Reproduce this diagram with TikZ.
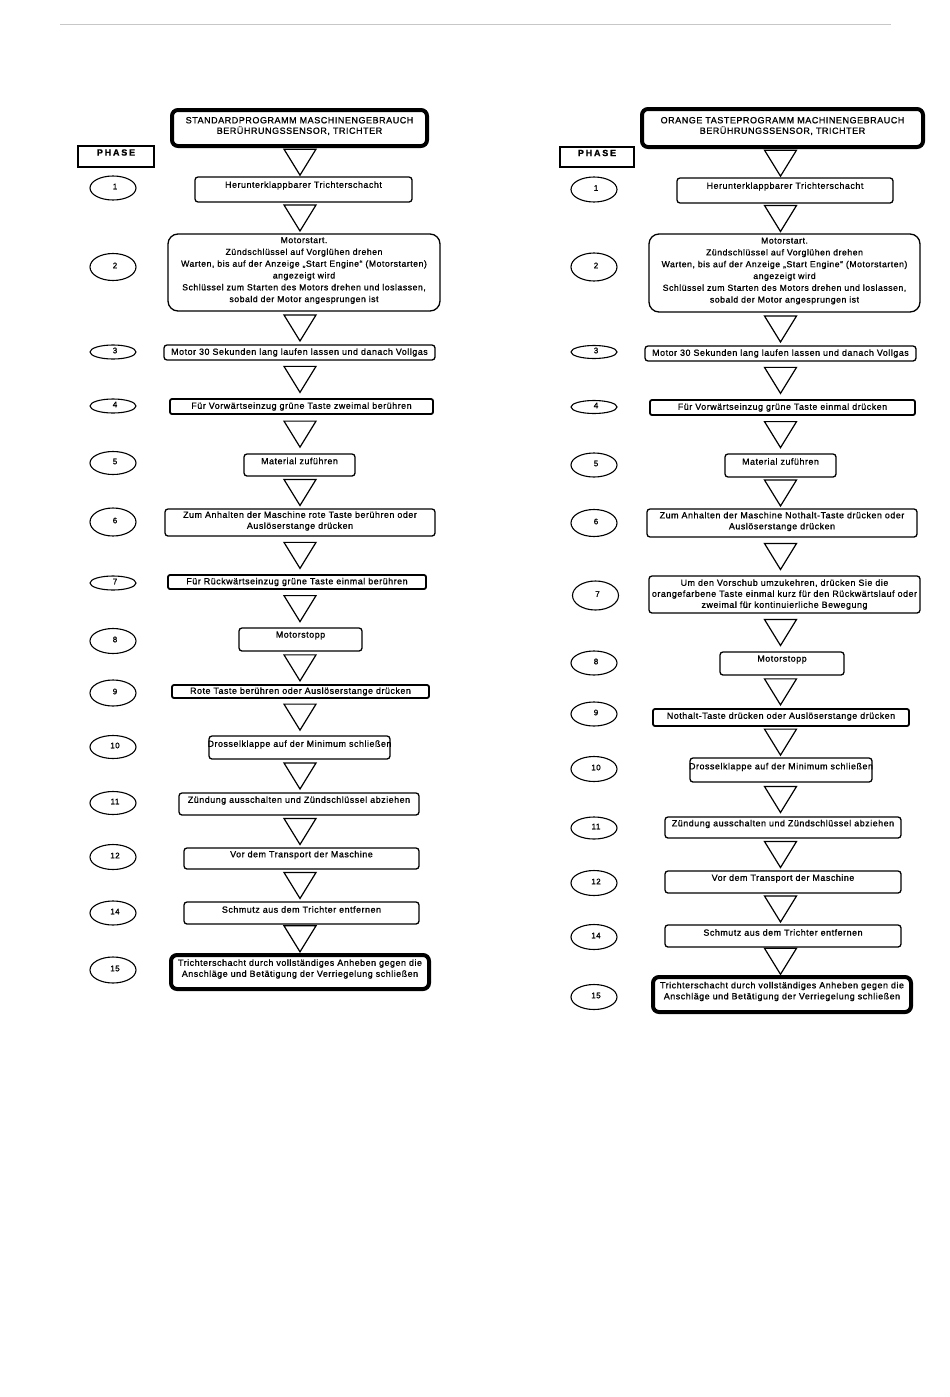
\documentclass[tikz,border=0pt]{standalone}
\usepackage{fontspec}
\setmainfont{Liberation Sans}[LetterSpace=6,FakeBold=1]
\usetikzlibrary{shapes.geometric,calc}
\tikzset{
  x=1pt,y=-1pt,
  txt/.style={align=center,inner sep=0pt,font=\fontsize{8.9}{11}\selectfont},
  box/.style={draw,line width=1.3pt,rounded corners=3pt,inner sep=0pt},
  box text/.style={txt},
  hbox/.style={draw,line width=1.8pt,rounded corners=2pt,inner sep=0pt},
  hbox text/.style={txt},
  rbox/.style={draw,line width=1.3pt,rounded corners=10pt,inner sep=0pt},
  rbox text/.style={txt,font=\fontsize{8.7}{11.8}\selectfont},
  tbox/.style={draw,line width=4pt,rounded corners=6pt,inner sep=0pt},
  tbox text/.style={txt},
  titlebox/.style={draw,line width=4pt,rounded corners=6pt,inner sep=0pt},
  titletext/.style={align=center,inner sep=0pt,font=\fontsize{9}{10.5}\selectfont},
  phasebox/.style={draw,line width=1.1pt,inner sep=0pt},
  phasetext/.style={inner sep=0pt,font=\fontsize{9}{10}\selectfont\bfseries\addfontfeatures{LetterSpace=20}},
  num/.style={draw,ellipse,line width=1.1pt,minimum width=46pt,inner sep=0pt},
  numtxt/.style={inner sep=0pt,font=\fontsize{8}{9}\selectfont},
  tri/.style={draw,line width=1.2pt,line join=miter},
}
% name, cx, cy, w, h, style, text, text shift
\newcommand\mkstep[8]{%
  \node[#6,minimum width=#4pt,minimum height=#5pt] (#1) at (#2,#3) {};
  \node[#6 text] (#1t) at ($(#1.center)+(0,#8)$) {#7};}
% name, cx, cy, h, label
\newcommand\mknum[5]{%
  \node[num,minimum height=#4pt] (#1) at (#2,#3) {};
  \node[numtxt] (#1t) at ($(#1.center)+(2,-1.5)$) {#5};}
% from, to, column coordinate
\newcommand\mktri[3]{%
  \coordinate (m) at ($(#1.south -| #3)!0.5!(#2.north -| #3)$);
  \draw[tri] ($(m)+(-16,-13)$) -- ($(m)+(16,-13)$) -- ($(m)+(0,13)$) -- cycle;}
\begin{document}
\begin{tikzpicture}
\useasboundingbox[fill=white] (0,0) rectangle (950,1397);
\coordinate (topl) at (60,24);
\coordinate (topr) at (891,24);
\draw[line width=0.8pt,black!22] (topl) -- (topr);
\coordinate (Lx) at (300,0);
\coordinate (Rx) at (780.5,0);

% ---------------- left column ----------------
\node[titlebox,minimum width=255pt,minimum height=36pt] (LT) at (299.5,128) {};
\node[titletext] (LTt) at ($(LT.center)+(0,-2)$) {STANDARDPROGRAMM MASCHINENGEBRAUCH\\BERÜHRUNGSSENSOR, TRICHTER};
\node[phasebox,minimum width=76pt,minimum height=21pt] (LP) at (116,156.5) {};
\node[phasetext] (LPt) at ($(LP.center)+(0,-4)$) {PHASE};

\mkstep{L1}{303.5}{189.5}{217}{25}{box}{Herunterklappbarer Trichterschacht}{-4}
\mkstep{L2}{304}{272.5}{272}{77}{rbox}{Motorstart.\\Zündschlüssel auf Vorglühen drehen\\Warten, bis auf der Anzeige „Start Engine“ (Motorstarten)\\angezeigt wird\\Schlüssel zum Starten des Motors drehen und loslassen,\\sobald der Motor angesprungen ist}{-2}
\mkstep{L3}{299.5}{352.5}{271}{15}{box}{Motor 30 Sekunden lang laufen lassen und danach Vollgas}{0}
\mkstep{L4}{301.5}{406.5}{263}{15}{hbox}{Für Vorwärtseinzug grüne Taste zweimal berühren}{0}
\mkstep{L5}{299.5}{465}{111}{22}{box}{Material zuführen}{-4}
\mkstep{L6}{300}{522.5}{270}{27}{box}{Zum Anhalten der Maschine rote Taste berühren oder\\Auslöserstange drücken}{-1.5}
\mkstep{L7}{297}{582}{258}{14}{hbox}{Für Rückwärtseinzug grüne Taste einmal berühren}{0}
\mkstep{L8}{300.5}{639.5}{123}{23}{box}{Motorstopp}{-4}
\mkstep{L9}{300.5}{691.5}{257}{13}{hbox}{Rote Taste berühren oder Auslöserstange drücken}{0}
\mkstep{L10}{299.5}{747.5}{181}{23}{box}{Drosselklappe auf der Minimum schließen}{-3}
\mkstep{L11}{299}{804}{240}{22}{box}{Zündung ausschalten und Zündschlüssel abziehen}{-3.5}
\mkstep{L12}{301.5}{858.5}{235}{21}{box}{Vor dem Transport der Maschine}{-3.5}
\mkstep{L14}{301.5}{913}{235}{22}{box}{Schmutz aus dem Trichter entfernen}{-3.5}
\mkstep{L15}{300}{972}{258}{34}{tbox}{Trichterschacht durch vollständiges Anheben gegen die\\Anschläge und Betätigung der Verriegelung schließen}{-3}

\mknum{N1}{113}{188}{24}{1}
\mknum{N2}{113}{267}{27}{2}
\mknum{N3}{113}{352}{14}{3}
\mknum{N4}{113}{406}{14}{4}
\mknum{N5}{113}{463}{23}{5}
\mknum{N6}{113}{522}{28}{6}
\mknum{N7}{113}{583}{14}{7}
\mknum{N8}{113}{641}{25}{8}
\mknum{N9}{113}{693}{26}{9}
\mknum{N10}{113}{747}{23}{10}
\mknum{N11}{113}{803}{23}{11}
\mknum{N12}{113}{857}{25}{12}
\mknum{N14}{113}{913}{24}{14}
\mknum{N15}{113}{970}{26}{15}

\mktri{LT}{L1}{Lx}
\mktri{L1}{L2}{Lx}
\mktri{L2}{L3}{Lx}
\mktri{L3}{L4}{Lx}
\mktri{L4}{L5}{Lx}
\mktri{L5}{L6}{Lx}
\mktri{L6}{L7}{Lx}
\mktri{L7}{L8}{Lx}
\mktri{L8}{L9}{Lx}
\mktri{L9}{L10}{Lx}
\mktri{L10}{L11}{Lx}
\mktri{L11}{L12}{Lx}
\mktri{L12}{L14}{Lx}
\mktri{L14}{L15}{Lx}

% ---------------- right column ----------------
\node[titlebox,minimum width=281pt,minimum height=38pt] (RT) at (782.5,128) {};
\node[titletext] (RTt) at ($(RT.center)+(0,-2)$) {ORANGE TASTEPROGRAMM MACHINENGEBRAUCH\\BERÜHRUNGSSENSOR, TRICHTER};
\node[phasebox,minimum width=74pt,minimum height=20pt] (RP) at (597,157) {};
\node[phasetext] (RPt) at ($(RP.center)+(0,-4)$) {PHASE};

\mkstep{R1}{785}{190.5}{216}{25}{box}{Herunterklappbarer Trichterschacht}{-4}
\mkstep{R2}{784.5}{273}{271}{78}{rbox}{Motorstart.\\Zündschlüssel auf Vorglühen drehen\\Warten, bis auf der Anzeige „Start Engine“ (Motorstarten)\\angezeigt wird\\Schlüssel zum Starten des Motors drehen und loslassen,\\sobald der Motor angesprungen ist}{-2}
\mkstep{R3}{780.5}{353.5}{271}{15}{box}{Motor 30 Sekunden lang laufen lassen und danach Vollgas}{0}
\mkstep{R4}{782.5}{407.5}{265}{15}{hbox}{Für Vorwärtseinzug grüne Taste einmal drücken}{0}
\mkstep{R5}{780.5}{465.5}{111}{23}{box}{Material zuführen}{-4}
\mkstep{R6}{782}{523}{270}{28}{box}{Zum Anhalten der Maschine Nothalt-Taste drücken oder\\Auslöserstange drücken}{-1.5}
\mkstep{R7}{784.5}{594.5}{271}{37}{box}{Um den Vorschub umzukehren, drücken Sie die\\orangefarbene Taste einmal kurz für den Rückwärtslauf oder\\zweimal für kontinuierliche Bewegung}{0}
\mkstep{R8}{782}{663.5}{124}{23}{box}{Motorstopp}{-4}
\mkstep{R9}{781}{717.5}{256}{17}{hbox}{Nothalt-Taste drücken oder Auslöserstange drücken}{-1}
\mkstep{R10}{781}{770}{182}{24}{box}{Drosselklappe auf der Minimum schließen}{-3}
\mkstep{R11}{783}{827.5}{236}{21}{box}{Zündung ausschalten und Zündschlüssel abziehen}{-3.5}
\mkstep{R12}{783}{882}{236}{22}{box}{Vor dem Transport der Maschine}{-3.5}
\mkstep{R14}{783}{936}{236}{22}{box}{Schmutz aus dem Trichter entfernen}{-3.5}
\mkstep{R15}{782}{994.5}{258}{35}{tbox}{Trichterschacht durch vollständiges Anheben gegen die\\Anschläge und Betätigung der Verriegelung schließen}{-3}

\mknum{M1}{594}{189.5}{25}{1}
\mknum{M2}{594}{267}{28}{2}
\mknum{M3}{594}{352}{13}{3}
\mknum{M4}{594}{407}{13}{4}
\mknum{M5}{594}{465}{24}{5}
\mknum{M6}{594}{523}{27}{6}
\mknum{M7}{595.5}{595.5}{29}{7}
\mknum{M8}{594}{663}{24}{8}
\mknum{M9}{594}{714}{24}{9}
\mknum{M10}{594}{769}{25}{10}
\mknum{M11}{594}{828}{22}{11}
\mknum{M12}{594}{883}{25}{12}
\mknum{M14}{594}{937}{25}{14}
\mknum{M15}{594}{997}{25}{15}

\mktri{RT}{R1}{Rx}
\mktri{R1}{R2}{Rx}
\mktri{R2}{R3}{Rx}
\mktri{R3}{R4}{Rx}
\mktri{R4}{R5}{Rx}
\mktri{R5}{R6}{Rx}
\mktri{R6}{R7}{Rx}
\mktri{R7}{R8}{Rx}
\mktri{R8}{R9}{Rx}
\mktri{R9}{R10}{Rx}
\mktri{R10}{R11}{Rx}
\mktri{R11}{R12}{Rx}
\mktri{R12}{R14}{Rx}
\mktri{R14}{R15}{Rx}
\end{tikzpicture}
\end{document}
